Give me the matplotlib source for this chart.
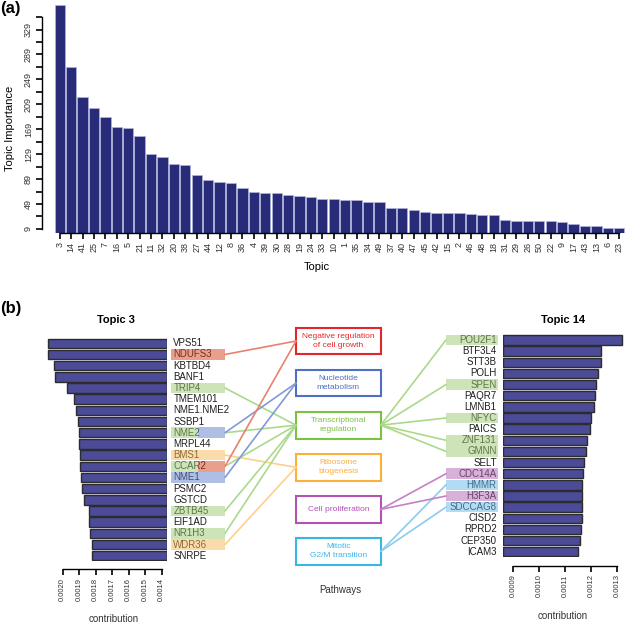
import matplotlib
matplotlib.use('Agg')
import matplotlib.pyplot as plt
from matplotlib.patches import Rectangle, ConnectionPatch

plt.rcParams['font.family'] = ['Liberation Sans', 'DejaVu Sans']

# (a) topic importance
topics = [3, 14, 41, 25, 7, 16, 5, 21, 11, 32, 20, 38, 27, 44, 12, 8, 36, 4, 39, 30,
          28, 19, 24, 33, 10, 1, 35, 34, 49, 37, 40, 47, 45, 42, 15, 2, 46, 48, 18, 31,
          29, 26, 50, 22, 9, 17, 43, 13, 6, 23]
importance = [368, 269, 220, 203, 188, 172, 171, 158, 129, 124, 113, 112, 95, 87, 85, 82, 74, 68, 67, 67,
              64, 62, 60, 57, 57, 56, 56, 53, 52, 42, 42, 40, 36, 35, 35, 34, 33, 31.5, 31.5, 24,
              22, 22, 21, 21, 20, 16.5, 14.5, 13, 11, 11]
imp_ticks = list(range(9, 350, 20))

# (b) top genes of topic 3 and topic 14
left_genes = ['VPS51', 'NDUFS3', 'KBTBD4', 'BANF1', 'TRIP4', 'TMEM101', 'NME1.NME2', 'SSBP1', 'NME2', 'MRPL44',
              'BMS1', 'CCAR2', 'NME1', 'PSMC2', 'GSTCD', 'ZBTB45', 'EIF1AD', 'NR1H3', 'WDR36', 'SNRPE']
left_vals = [0.002088, 0.002086, 0.002052, 0.002045, 0.001971, 0.001930, 0.001916, 0.001904, 0.001902, 0.001900,
             0.001896, 0.001892, 0.001886, 0.001880, 0.001870, 0.001839, 0.001838, 0.001835, 0.001823, 0.001821]
left_ticks = [0.0020, 0.0019, 0.0018, 0.0017, 0.0016, 0.0015, 0.0014]

right_genes = ['POU2F1', 'BTF3L4', 'STT3B', 'POLH', 'SPEN', 'PAQR7', 'LMNB1', 'NFYC', 'PAICS', 'ZNF131',
               'GMNN', 'SELT', 'CDC14A', 'HMMR', 'H3F3A', 'SDCCAG8', 'CISD2', 'RPRD2', 'CEP350', 'ICAM3']
right_vals = [0.001317, 0.001235, 0.001236, 0.001227, 0.001219, 0.001214, 0.001208, 0.001199, 0.001196, 0.001182,
              0.001181, 0.001171, 0.001169, 0.001165, 0.001165, 0.001164, 0.001162, 0.001159, 0.001155, 0.001148]
right_ticks = [0.0009, 0.0010, 0.0011, 0.0012, 0.0013]

pathways = ['Negative regulation\nof cell growth', 'Nucleotide\nmetabolism', 'Transcriptional\nregulation',
            'Ribosome\nbiogenesis', 'Cell proliferation', 'Mitotic\nG2/M transition']
path_colors = ['#e3262b', '#4f6fc1', '#7cc242', '#fbb03b', '#b452b4', '#3ab5e8']
line_colors = ['#e9826c', '#8099d9', '#abd98c', '#fdd08c', '#c680c6', '#8accef']
hl_colors = ['#d3411a', '#617fcd', '#9bcb73', '#fbb957', '#b365b7', '#6bb9eb']

# gene -> pathway indices (order = highlight segments left to right)
left_links = {'NDUFS3': [0], 'TRIP4': [2], 'NME2': [2, 1], 'BMS1': [3], 'CCAR2': [2, 0],
              'NME1': [1], 'ZBTB45': [2], 'NR1H3': [2], 'WDR36': [3]}
right_links = {'POU2F1': [2], 'SPEN': [2], 'NFYC': [2], 'ZNF131': [2], 'GMNN': [2],
               'CDC14A': [4], 'HMMR': [5], 'H3F3A': [4], 'SDCCAG8': [5]}

W, H = 626, 623
fig = plt.figure(figsize=(W / 100, H / 100), dpi=100)


def px_axes(x0, y0, x1, y1):
    return fig.add_axes([x0 / W, 1 - y1 / H, (x1 - x0) / W, (y1 - y0) / H])


# overlay for free text, in pixel coords
ov = px_axes(0, 0, W, H)
ov.set_xlim(0, W)
ov.set_ylim(H, 0)
ov.axis('off')

# ---- panel (a)
ax = px_axes(42, 0, 626, 233.3)
xs = list(range(len(topics)))
ax.bar(xs, importance, width=0.9, color='#282b78', edgecolor='#b4b4dc', linewidth=0.5)
ax.set_xlim(-1.55, 49.59)
ax.set_ylim(2, 376.4)
for s in ['top', 'right']:
    ax.spines[s].set_visible(False)
ax.spines['bottom'].set_bounds(0, len(topics) - 1)
ax.spines['left'].set_bounds(9, 349)
ax.spines['left'].set_linewidth(1.0)
ax.spines['bottom'].set_linewidth(1.0)
ax.set_xticks(xs)
ax.set_xticklabels([str(t) for t in topics], rotation=90, fontsize=6.5, color='#333333')
ax.set_yticks(imp_ticks)
ax.set_yticklabels([str(v) if (v - 9) % 40 == 0 else '' for v in imp_ticks],
                   rotation=90, va='center', fontsize=6.5, color='#333333')
ax.tick_params(axis='both', length=4.5, width=1.2, pad=2)
ax.set_xlabel('Topic', fontsize=8)
ax.set_ylabel('Topic Importance', fontsize=8)
ax.xaxis.set_label_coords(0.471, -0.125)
ax.yaxis.set_label_coords(-0.046, 0.451)

ov.text(0, 9, '(a)', fontsize=12, fontweight='bold', va='center', ha='left')
ov.text(0, 309, '(b)', fontsize=12, fontweight='bold', va='center', ha='left')


def bar_panel(x0, x1, ytop, ybot, vals, xlim, ticks, out):
    a = px_axes(x0, ytop, x1, ybot)
    rows = list(range(len(vals)))
    base = min(xlim)
    a.barh(rows, [v - base for v in vals], left=base, height=0.84,
           color='#4b4b98', edgecolor='#2c2c2c', linewidth=1.0)
    a.set_xlim(*xlim)
    a.set_ylim(len(vals) - 0.5, -0.5)
    for s in ['top', 'right', 'left']:
        a.spines[s].set_visible(False)
    a.spines['bottom'].set_position(('outward', out))
    a.spines['bottom'].set_bounds(min(ticks), max(ticks))
    a.spines['bottom'].set_linewidth(1.0)
    a.set_yticks([])
    a.set_xticks(ticks)
    a.set_xticklabels(['%.4f' % t for t in ticks], rotation=90, fontsize=5.5, color='#333333')
    a.tick_params(axis='x', length=4, width=1.2, pad=2)
    return a


def label_axes(x0, x1, ytop, ybot, n):
    a = px_axes(x0, ytop, x1, ybot)
    a.set_xlim(0, 1)
    a.set_ylim(n - 0.5, -0.5)
    a.axis('off')
    return a


# left: topic 3 (reversed x)
axL = bar_panel(40, 167, 337.7, 561.3, left_vals, (0.0021364, 0.001367), left_ticks, 5.8)
labL = label_axes(171, 225, 337.7, 561.3, len(left_genes))
# right: topic 14
axR = bar_panel(502.5, 626, 334.4, 557.3, right_vals, (0.000858, 0.001333), right_ticks, 6.3)
labR = label_axes(446, 498.3, 334.4, 557.3, len(right_genes))

ov.text(116, 320, 'Topic 3', fontsize=8, fontweight='bold', ha='center', va='center')
ov.text(562.7, 320, 'Topic 14', fontsize=8, fontweight='bold', ha='center', va='center')
ov.text(114, 619, 'contribution', fontsize=7, ha='center', va='center', color='#333333')
ov.text(562.7, 616, 'contribution', fontsize=7, ha='center', va='center', color='#333333')
ov.text(340, 590, 'Pathways', fontsize=7, ha='center', va='center', color='#333333')

# pathway boxes
axP = px_axes(296, 320, 380.7, 572.5)
axP.set_xlim(0, 1)
axP.set_ylim(len(pathways) - 0.5, -0.5)
axP.axis('off')
for k, (name, c) in enumerate(zip(pathways, path_colors)):
    axP.add_patch(Rectangle((0, k - 0.317), 1, 0.634, facecolor='white', edgecolor=c,
                            linewidth=1.5, zorder=3, clip_on=False))
    axP.text(0.5, k, name, color=c, fontsize=6, ha='center', va='center',
             linespacing=1.4, zorder=4)


def genes_with_links(lab, genes, links, side):
    for i, g in enumerate(genes):
        if side == 'left':
            lab.text(0.043, i, g, fontsize=7, ha='left', va='center', color='#1e1e1e', zorder=2)
        else:
            lab.text(0.97, i, g, fontsize=7, ha='right', va='center', color='#1e1e1e', zorder=2)
        if g not in links:
            continue
        segs = links[g]
        wseg = 1 / len(segs)
        for j, k in enumerate(segs):
            lab.add_patch(Rectangle((j * wseg, i - 0.47), wseg, 0.94, facecolor=hl_colors[k],
                                    alpha=0.5, edgecolor='none', zorder=3, clip_on=False))
            if side == 'left':
                con = ConnectionPatch(xyA=(1, i), coordsA=lab.transData, xyB=(0, k),
                                      coordsB=axP.transData, color=line_colors[k], lw=1.2)
            else:
                con = ConnectionPatch(xyA=(0, i), coordsA=lab.transData, xyB=(1, k),
                                      coordsB=axP.transData, color=line_colors[k], lw=1.2)
            fig.add_artist(con)


genes_with_links(labL, left_genes, left_links, 'left')
genes_with_links(labR, right_genes, right_links, 'right')

fig.savefig('out.png', dpi=100)
